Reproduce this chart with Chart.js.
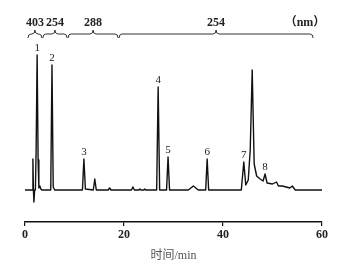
<!DOCTYPE html>
<html>
<head>
<meta charset="utf-8">
<script src="https://cdn.jsdelivr.net/npm/chart.js@4/dist/chart.umd.min.js"></script>
<style>
  html, body { margin: 0; padding: 0; background: #fff; }
  #wrap { width: 345px; height: 267px; }
</style>
</head>
<body>
<div id="wrap"><canvas id="grafico"></canvas></div>
<script>
// ---- dados do cromatograma (tempo em min, sinal em unidades relativas) ----
const tempos = [0, 1.5, 1.6, 1.7, 1.8, 1.95, 2.1, 2.25, 2.45, 2.65, 2.8, 3.0, 3.2, 3.4, 5.2, 5.45, 5.7, 6.0,
  11.6, 11.9, 12.2, 13.8, 14.1, 14.4, 16.8, 17.1, 17.4, 21.5, 21.8, 22.1, 23.0, 23.2, 23.4, 24.0, 24.2, 24.4,
  26.6, 26.9, 27.2, 28.6, 28.9, 29.2, 33.0, 34.0, 35.0, 36.5, 36.8, 37.1, 43.7, 44.2, 44.6, 45.1, 45.5, 45.9,
  46.3, 46.8, 47.5, 48.1, 48.5, 48.9, 50.0, 50.8, 51.2, 52.0, 53.5, 54.0, 54.6, 60];
const sinal = [0, 0, 31, 0, -12, 0, 0, 40, 135, 30, 2, 4, 1, 0, 0, 125, 3, 0,
  0, 31, 1, 0, 11, 0, 0, 2, 0, 0, 3, 0, 0, 1, 0, 0, 1, 0,
  0, 103, 0, 0, 33, 0, 0, 4, 0, 0, 31, 0, 0, 28, 5, 10, 40, 120,
  26, 14, 11, 9, 16, 7, 6, 8, 4, 4, 2, 4, 0, 0];

const picosNomes = ["1", "2", "3", "4", "5", "6", "7", "8"];
const picosTempos = [2.45, 5.45, 11.9, 26.9, 28.9, 36.8, 44.2, 48.5];

const ondaNomes = ["403", "254", "288", "254"];
const ondaInicio = [0.6, 3.6, 8.7, 19.0];
const ondaFim = [3.4, 8.5, 18.8, 58.2];

const ticksX = [0, 20, 40, 60];

const fonteSerif = '"Liberation Serif", "Times New Roman", serif';

// ---- anotações: números dos picos e chaves dos comprimentos de onda ----
const anotacoes = {
  id: "anotacoes",
  afterDraw(chart) {
    const c = chart.ctx;
    const x = chart.scales.x, y = chart.scales.y;
    c.save();
    c.fillStyle = "#222";
    c.textAlign = "center";
    c.textBaseline = "bottom";
    c.font = "11px " + fonteSerif;
    picosTempos.forEach((t, i) => {
      const k = tempos.indexOf(t);
      c.fillText(picosNomes[i], x.getPixelForValue(t), y.getPixelForValue(sinal[k]) - 1);
    });

    c.font = "bold 12px " + fonteSerif;
    c.textBaseline = "middle";
    c.strokeStyle = "#333";
    c.lineWidth = 1;
    ondaNomes.forEach((n, i) => {
      const x1 = x.getPixelForValue(ondaInicio[i]);
      const x2 = x.getPixelForValue(ondaFim[i]);
      const xm = (x1 + x2) / 2;
      c.fillText(n, xm, 23);
      c.beginPath();
      c.moveTo(x1, 38);
      c.quadraticCurveTo(x1, 34, x1 + 3, 34);
      c.lineTo(xm - 3, 34);
      c.quadraticCurveTo(xm, 34, xm, 30);
      c.quadraticCurveTo(xm, 34, xm + 3, 34);
      c.lineTo(x2 - 3, 34);
      c.quadraticCurveTo(x2, 34, x2, 38);
      c.stroke();
    });
    c.font = 'bold 12px "Liberation Serif", "Noto Sans CJK SC"';
    c.fillText("（nm）", 305, 23);
    c.restore();
  }
};

new Chart(document.getElementById("grafico"), {
  type: "line",
  data: {
    datasets: [{
      data: tempos.map((t, i) => ({ x: t, y: sinal[i] })),
      borderColor: "#111",
      borderWidth: 1.4,
      borderJoinStyle: "round",
      pointRadius: 0,
      tension: 0,
      fill: false
    }]
  },
  options: {
    responsive: true,
    maintainAspectRatio: false,
    animation: false,
    layout: { padding: { left: 25, right: 23, top: 40, bottom: 0 } },
    plugins: { legend: { display: false }, tooltip: { enabled: false } },
    scales: {
      x: {
        type: "linear",
        min: 0,
        max: 60,
        afterBuildTicks: s => { s.ticks = ticksX.map(v => ({ value: v })); },
        afterFit: s => { s.height = 45; },
        grid: { drawOnChartArea: false, drawTicks: true, tickLength: 4, color: "#111", lineWidth: 1.2 },
        border: { display: true, color: "#111", width: 1.5 },
        ticks: { color: "#222", padding: 2, maxRotation: 0, font: { family: fonteSerif, size: 12, weight: "bold" } },
        title: {
          display: true,
          text: "时间/min",
          color: "#555",
          padding: { top: 2 },
          font: { family: '"Liberation Serif", "Noto Sans CJK SC"', size: 12 }
        }
      },
      y: { display: false, min: -32, max: 150 }
    }
  },
  plugins: [anotacoes]
});
</script>
</body>
</html>
